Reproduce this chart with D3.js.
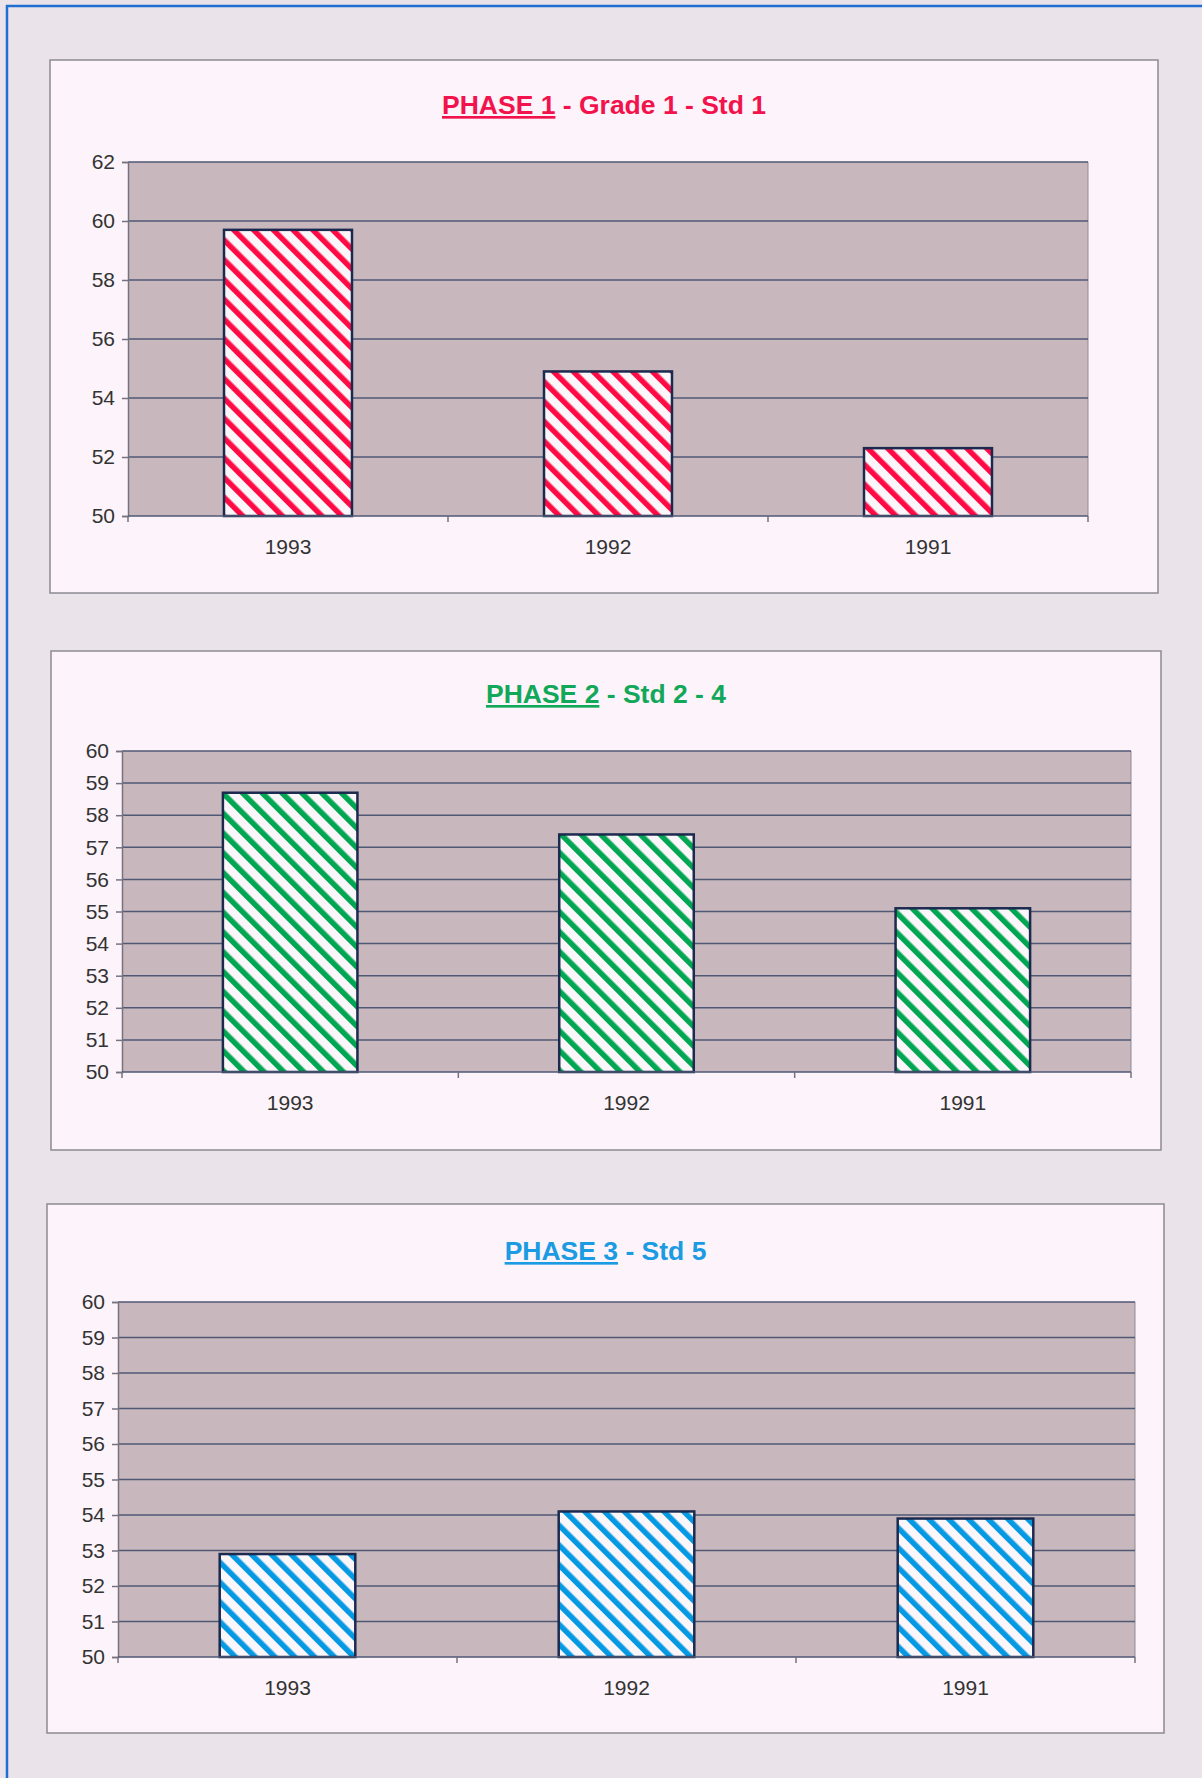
<!DOCTYPE html>
<html>
<head>
<meta charset="utf-8">
<script src="https://cdn.jsdelivr.net/npm/d3@7"></script>
<style>
  html, body { margin: 0; padding: 0; background: #ebe4ea; }
  svg { display: block; }
  text { font-family: "Liberation Sans", Arial, sans-serif; }
</style>
</head>
<body>
<svg id="chart"></svg>
<script>
// values
const years = ['1993', '1992', '1991'];
const phase1Values = [59.7, 54.9, 52.3];
const phase2Values = [58.7, 57.4, 55.1];
const phase3Values = [52.9, 54.1, 53.9];
const phase1Ticks = [50, 52, 54, 56, 58, 60, 62];
const phase2Ticks = [50, 51, 52, 53, 54, 55, 56, 57, 58, 59, 60];
const phase3Ticks = [50, 51, 52, 53, 54, 55, 56, 57, 58, 59, 60];
const phase1Title = ['PHASE 1', ' - Grade 1 - Std 1'];
const phase2Title = ['PHASE 2', ' - Std 2 - 4'];
const phase3Title = ['PHASE 3', ' - Std 5'];

const W = 1202, H = 1778;
const svg = d3.select('#chart').attr('width', W).attr('height', H);
const defs = svg.append('defs');

// page
svg.append('rect').attr('width', W).attr('height', H).attr('fill', '#ebe3ea');
svg.append('line').attr('x1', 7).attr('y1', 5).attr('x2', 7).attr('y2', H)
  .attr('stroke', '#1f6fd2').attr('stroke-width', 2.5);
svg.append('line').attr('x1', 6).attr('y1', 6).attr('x2', W).attr('y2', 6)
  .attr('stroke', '#1f6fd2').attr('stroke-width', 2.5);

const panels = [
  { id: 'p1', values: phase1Values, ticks: phase1Ticks, title: phase1Title,
    color: '#ff0a45', titleColor: '#f2124c',
    box: { x0: 50, y0: 60, x1: 1158, y1: 593 },
    plot: { x0: 128, y0: 162, x1: 1088, y1: 516 }, titleY: 114 },
  { id: 'p2', values: phase2Values, ticks: phase2Ticks, title: phase2Title,
    color: '#00a651', titleColor: '#12a85a',
    box: { x0: 51, y0: 651, x1: 1161, y1: 1150 },
    plot: { x0: 122, y0: 751, x1: 1131, y1: 1072 }, titleY: 703 },
  { id: 'p3', values: phase3Values, ticks: phase3Ticks, title: phase3Title,
    color: '#0499e2', titleColor: '#1a9be2',
    box: { x0: 47, y0: 1204, x1: 1164, y1: 1733 },
    plot: { x0: 118, y0: 1302, x1: 1135, y1: 1657 }, titleY: 1260 }
];

panels.forEach(p => {
  // hatch pattern: diagonal stripes running top-left to bottom-right
  const pat = defs.append('pattern')
    .attr('id', 'hatch-' + p.id)
    .attr('patternUnits', 'userSpaceOnUse')
    .attr('width', 14).attr('height', 14)
    .attr('patternTransform', 'rotate(-45)');
  pat.append('rect').attr('width', 14).attr('height', 14).attr('fill', '#fbf6fa');
  pat.append('rect').attr('width', 5.5).attr('height', 14).attr('fill', p.color);

  const g = svg.append('g');
  const b = p.box, a = p.plot;

  g.append('rect')
    .attr('x', b.x0).attr('y', b.y0)
    .attr('width', b.x1 - b.x0).attr('height', b.y1 - b.y0)
    .attr('fill', '#fcf4fa').attr('stroke', '#8d8a93').attr('stroke-width', 1.5);

  // title, first part underlined
  const t = g.append('text')
    .attr('x', (b.x0 + b.x1) / 2).attr('y', p.titleY)
    .attr('text-anchor', 'middle')
    .style('font-size', '26.5px').style('font-weight', 'bold')
    .attr('fill', p.titleColor);
  t.append('tspan').style('text-decoration', 'underline').text(p.title[0]);
  t.append('tspan').text(p.title[1]);

  const x = d3.scaleBand().domain(years).range([a.x0, a.x1]);
  const y = d3.scaleLinear()
    .domain([p.ticks[0], p.ticks[p.ticks.length - 1]])
    .range([a.y1, a.y0]);

  g.append('rect')
    .attr('x', a.x0).attr('y', a.y0)
    .attr('width', a.x1 - a.x0).attr('height', a.y1 - a.y0)
    .attr('fill', '#c8b8bd');
  g.append('line')
    .attr('x1', a.x1).attr('x2', a.x1).attr('y1', a.y0).attr('y2', a.y1)
    .attr('stroke', '#8f8a93').attr('stroke-width', 1);

  // gridlines
  g.append('g').selectAll('line')
    .data(p.ticks.slice(1))
    .enter().append('line')
    .attr('x1', a.x0).attr('x2', a.x1)
    .attr('y1', d => y(d)).attr('y2', d => y(d))
    .attr('stroke', '#4f5875').attr('stroke-width', 1.5);

  // bars
  const bw = x.bandwidth() * 0.4;
  g.append('g').selectAll('rect')
    .data(p.values)
    .enter().append('rect')
    .attr('x', (d, i) => x(years[i]) + (x.bandwidth() - bw) / 2)
    .attr('y', d => y(d))
    .attr('width', bw)
    .attr('height', d => y(p.ticks[0]) - y(d))
    .attr('fill', 'url(#hatch-' + p.id + ')')
    .attr('stroke', '#1b2a4e').attr('stroke-width', 2.5);

  // y axis
  const yAxis = g.append('g')
    .attr('transform', `translate(${a.x0},0)`)
    .call(d3.axisLeft(y).tickValues(p.ticks).tickSize(6).tickPadding(7).tickFormat(d3.format('d')));
  yAxis.select('.domain').attr('stroke', '#77727f').attr('stroke-width', 1.5);
  yAxis.selectAll('.tick line').attr('stroke', '#77727f').attr('stroke-width', 1.5);
  yAxis.selectAll('text').style('font-size', '21px').attr('fill', '#333');

  // x axis: line, boundary ticks, centred labels
  g.append('line')
    .attr('x1', a.x0).attr('x2', a.x1).attr('y1', a.y1).attr('y2', a.y1)
    .attr('stroke', '#4f5875').attr('stroke-width', 1.5);
  const bounds = years.map(d => x(d)).concat([a.x1]);
  g.append('g').selectAll('line')
    .data(bounds)
    .enter().append('line')
    .attr('x1', d => d).attr('x2', d => d)
    .attr('y1', a.y1).attr('y2', a.y1 + 6)
    .attr('stroke', '#77727f').attr('stroke-width', 1.5);
  const xAxis = g.append('g')
    .attr('transform', `translate(0,${a.y1})`)
    .call(d3.axisBottom(x).tickSize(0).tickPadding(23));
  xAxis.select('.domain').remove();
  xAxis.selectAll('text').style('font-size', '21px').attr('fill', '#333');
});
</script>
</body>
</html>
